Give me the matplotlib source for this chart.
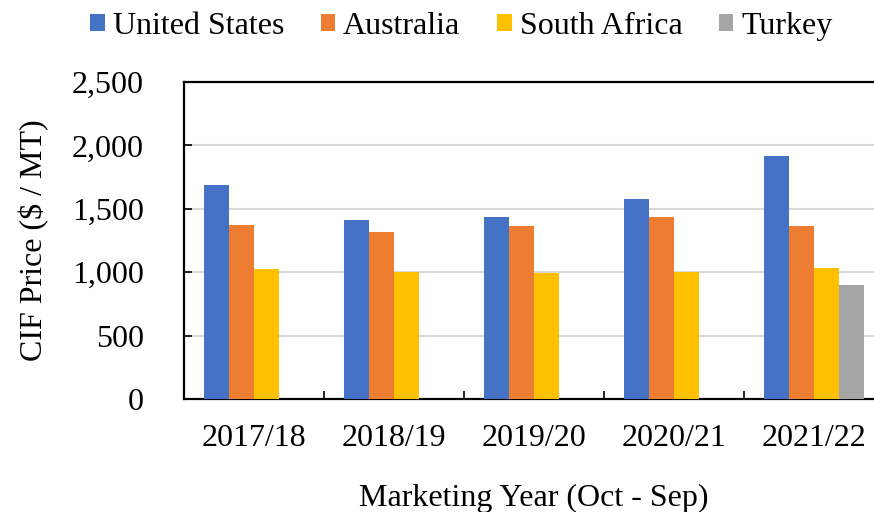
import numpy as np
import matplotlib.pyplot as plt
from matplotlib.patches import Patch

# Data
years = ["2017/18", "2018/19", "2019/20", "2020/21", "2021/22"]
united_states = [1690, 1415, 1435, 1577, 1914]
australia = [1374, 1319, 1366, 1437, 1364]
south_africa = [1029, 1003, 995, 1000, 1035]
turkey = [np.nan, np.nan, np.nan, np.nan, 900]

series = ["United States", "Australia", "South Africa", "Turkey"]
colors = ["#4472C4", "#ED7D31", "#FFC000", "#A5A5A5"]

plt.rcParams["font.family"] = ["Liberation Serif", "DejaVu Serif"]
plt.rcParams["font.size"] = 23

fig = plt.figure(figsize=(8.74, 5.12), dpi=100)
ax = fig.add_axes([184 / 874, 113 / 512, 700 / 874, 317 / 512])

x = np.arange(len(years))
w = 0.18
values = [united_states, australia, south_africa, turkey]
for i, (vals, c) in enumerate(zip(values, colors)):
    ax.bar(x + (i - 1.5) * w, vals, width=w, color=c, zorder=3)

ax.set_xlim(-0.5, len(years) - 0.5)
ax.set_ylim(0, 2500)
ax.set_yticks(range(0, 2501, 500))
ax.set_yticklabels([f"{v:,}" for v in range(0, 2501, 500)])
ax.yaxis.grid(True, color="#d9d9d9", linewidth=1.5, zorder=0)
ax.set_axisbelow(True)

# category boundaries as major ticks, labels at centres as minor ticks
ax.set_xticks(np.arange(-0.5, len(years), 1.0))
ax.set_xticklabels([])
ax.set_xticks(x, minor=True)
ax.set_xticklabels(years, minor=True)
ax.tick_params(axis="x", which="major", direction="in", length=6, width=1.2)
ax.tick_params(axis="x", which="minor", length=0, pad=18)
ax.tick_params(axis="y", direction="in", length=6, width=1.2, pad=29)

for s in ["left", "bottom", "top", "right"]:
    ax.spines[s].set_linewidth(1.6)
    ax.spines[s].set_color("black")

ax.set_ylabel("CIF Price ($ / MT)", labelpad=16)
ax.set_xlabel("Marketing Year (Oct - Sep)", labelpad=22)

handles = [Patch(facecolor=c, label=s) for s, c in zip(series, colors)]
fig.legend(handles=handles, loc="center", bbox_to_anchor=(0.528, 0.949),
           ncol=4, frameon=False, handlelength=0.45, handleheight=0.45,
           handletextpad=0.25, columnspacing=1.15)

fig.savefig("out.png", dpi=100)
